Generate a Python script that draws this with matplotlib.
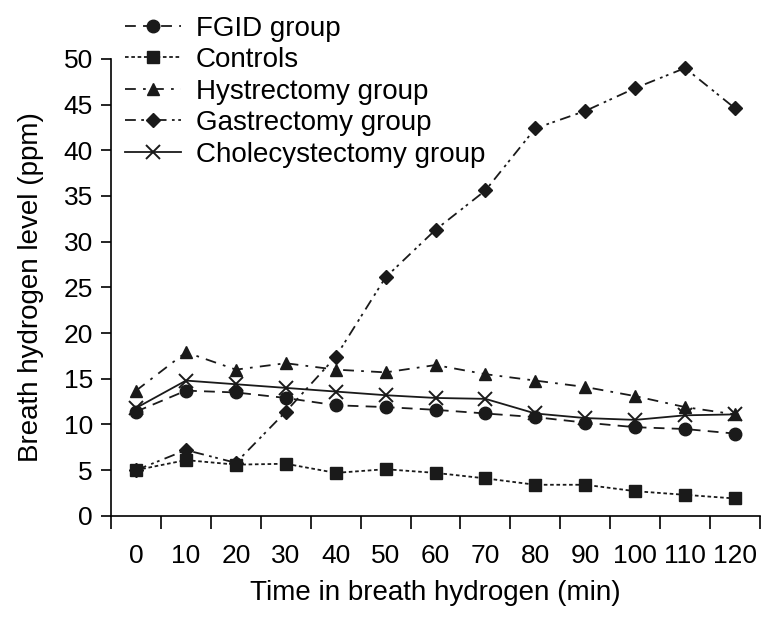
import numpy as np
import matplotlib
matplotlib.use('Agg')
import matplotlib.pyplot as plt

plt.rcParams['font.family'] = ['Liberation Sans', 'DejaVu Sans']

# time points (min)
times = [0, 10, 20, 30, 40, 50, 60, 70, 80, 90, 100, 110, 120]

# breath hydrogen (ppm)
fgid = [11.4, 13.7, 13.5, 12.9, 12.1, 11.9, 11.6, 11.2, 10.8, 10.2, 9.7, 9.5, 9.0]
controls = [5.0, 6.1, 5.6, 5.7, 4.7, 5.1, 4.7, 4.1, 3.4, 3.4, 2.7, 2.3, 1.9]
hyst = [13.7, 17.9, 16.0, 16.7, 16.0, 15.7, 16.5, 15.5, 14.8, 14.1, 13.1, 11.9, 11.1]
gast = [5.0, 7.2, 5.8, 11.4, 17.4, 26.1, 31.3, 35.6, 42.4, 44.3, 46.8, 49.0, 44.6]
chole = [11.8, 14.8, 14.4, 14.0, 13.6, 13.2, 12.9, 12.8, 11.2, 10.7, 10.5, 11.0, 11.1]

fig = plt.figure(figsize=(7.77, 6.2), dpi=100)
ax = fig.add_axes([0.143, 0.168, 0.835, 0.737])

x = np.arange(len(times))
lw = 1.3
c = '#1a1a1a'
ax.plot(x, fgid, color=c, lw=lw, ls=(0, (6, 4)), marker='o', ms=9,
        label='FGID group')
ax.plot(x, controls, color=c, lw=lw, ls=(0, (2, 1.5)), marker='s', ms=8,
        label='Controls')
ax.plot(x, hyst, color=c, lw=lw, ls=(0, (6, 4, 1.5, 4)), marker='^', ms=9,
        label='Hystrectomy group')
ax.plot(x, gast, color=c, lw=lw, ls=(0, (6, 3, 1.5, 2, 1.5, 3)), marker='D', ms=7.5,
        label='Gastrectomy group')
ax.plot(x, chole, color=c, lw=lw, ls='-', marker='x', ms=10, mew=1.4,
        label='Cholecystectomy group')

ax.set_xlim(-0.5, len(times) - 0.5)
ax.set_ylim(0, 50)
ax.set_yticks(np.arange(0, 51, 5))
ax.set_xticks(x)
ax.set_xticklabels([str(t) for t in times])
ax.set_xticks(np.arange(-0.5, len(times), 1), minor=True)
ax.tick_params(axis='x', which='major', length=0, pad=20, labelsize=19)
ax.tick_params(axis='x', which='minor', length=9, width=1.2, direction='out')
ax.tick_params(axis='y', length=7, width=1.2, direction='out', labelsize=19, pad=6)

for s in ['top', 'right']:
    ax.spines[s].set_visible(False)
for s in ['left', 'bottom']:
    ax.spines[s].set_linewidth(1.2)

ax.set_xlabel('Time in breath hydrogen (min)', fontsize=20, labelpad=9)
ax.set_ylabel('Breath hydrogen level (ppm)', fontsize=20, labelpad=14)

fig.legend(loc='upper left', bbox_to_anchor=(0.161, 0.975), frameon=False,
           fontsize=20, handlelength=2.0, handletextpad=0.55, labelspacing=0.2,
           borderaxespad=0, borderpad=0)

fig.savefig('out.png', dpi=100)
